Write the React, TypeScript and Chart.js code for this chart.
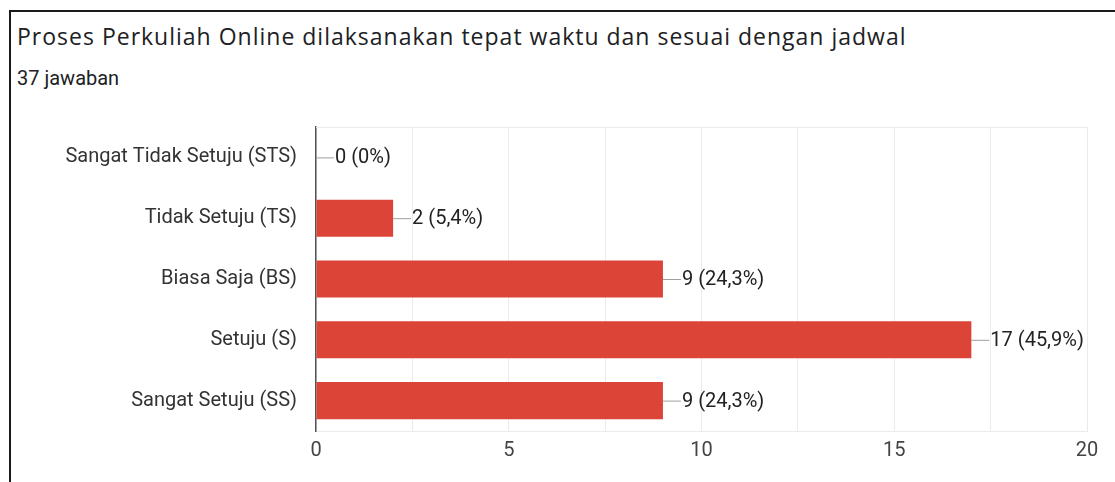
import React, { useEffect, useRef } from "react";
import { Chart, registerables } from "chart.js";

Chart.register(...registerables);

const TITLE = "Proses Perkuliah Online dilaksanakan tepat waktu dan sesuai dengan jadwal";
const SUBTITLE = "37 jawaban";
const categories = [
  "Sangat Tidak Setuju (STS)",
  "Tidak Setuju (TS)",
  "Biasa Saja (BS)",
  "Setuju (S)",
  "Sangat Setuju (SS)",
];
const counts = [0, 2, 9, 17, 9];
const total = 37;
const xTickLabels = [0, 5, 10, 15, 20];

function pctLabel(v: number) {
  const p = Math.round((v / total) * 1000) / 10;
  const s = Number.isInteger(p) ? String(p) : p.toFixed(1).replace(".", ",");
  return `${v} (${s}%)`;
}

const labelPlugin = {
  id: "valueLabels",
  afterDatasetsDraw(chart: any) {
    const ctx = chart.ctx;
    const meta = chart.getDatasetMeta(0);
    ctx.save();
    meta.data.forEach((bar: any, i: number) => {
      const x = bar.x;
      const y = bar.y;
      ctx.strokeStyle = "#9e9e9e";
      ctx.lineWidth = 1;
      ctx.beginPath();
      ctx.moveTo(x, y + 0.5);
      ctx.lineTo(x + 18, y + 0.5);
      ctx.stroke();
      ctx.fillStyle = "#222222";
      ctx.font = "20px Roboto";
      ctx.textAlign = "left";
      ctx.textBaseline = "middle";
      ctx.fillText(pctLabel(counts[i]), x + 19, y + 1);
    });
    ctx.restore();
  },
  beforeDatasetsDraw(chart: any) {
    const { ctx, chartArea } = chart;
    ctx.save();
    ctx.strokeStyle = "#ebebeb";
    ctx.lineWidth = 1;
    ctx.beginPath();
    ctx.moveTo(chartArea.left, chartArea.top + 0.5);
    ctx.lineTo(chartArea.right, chartArea.top + 0.5);
    ctx.stroke();
    ctx.restore();
  },
};

export default function App() {
  const ref = useRef<HTMLCanvasElement | null>(null);
  useEffect(() => {
    if (!ref.current) return;
    const chart = new Chart(ref.current, {
      type: "bar",
      data: {
        labels: categories,
        datasets: [
          {
            data: counts,
            backgroundColor: "#DB4437",
            barPercentage: 0.61,
            categoryPercentage: 1,
          },
        ],
      },
      options: {
        indexAxis: "y",
        responsive: false,
        animation: false,
        layout: { padding: { top: 22, right: 28, left: 0, bottom: 0 } },
        plugins: { legend: { display: false }, tooltip: { enabled: false } },
        scales: {
          x: {
            min: 0,
            max: 20,
            ticks: {
              stepSize: 2.5,
              autoSkip: false,
              maxRotation: 0,
              color: "#444",
              font: { family: "Roboto", size: 20 },
              padding: 8,
              callback: (v: any) => (xTickLabels.includes(Number(v)) ? String(v) : ""),
            },
            grid: { color: "#ebebeb", drawTicks: false },
            border: { color: "#ebebeb" },
            afterFit: (s: any) => {
              s.height = 51;
            },
          },
          y: {
            ticks: {
              color: "#333",
              font: { family: "Roboto", size: 20 },
              padding: 19,
            },
            grid: { display: false, drawTicks: false },
            border: { color: "#555", width: 1.5 },
            afterFit: (s: any) => {
              s.width = 305;
            },
          },
        },
      },
      plugins: [labelPlugin],
    });
    return () => chart.destroy();
  }, []);

  return (
    <div style={{ position: "fixed", left: 0, top: 0, width: 1115, height: 482, overflow: "hidden", background: "#fff" }}>
      <div
        style={{
          position: "absolute",
          left: 9,
          top: 10,
          width: 1200,
          height: 600,
          borderTop: "2px solid #1a1a1a",
          borderLeft: "2px solid #1a1a1a",
        }}
      />
      <div
        style={{
          position: "absolute",
          left: 17,
          top: 21,
          fontFamily: "'Open Sans'",
          fontSize: 23,
          letterSpacing: "1px",
          color: "#202124",
          whiteSpace: "nowrap",
          lineHeight: "30px",
        }}
      >
        {TITLE}
      </div>
      <div
        style={{
          position: "absolute",
          left: 17,
          top: 65,
          fontFamily: "Roboto",
          fontSize: 20,
          color: "#202124",
          whiteSpace: "nowrap",
          lineHeight: "26px",
        }}
      >
        {SUBTITLE}
      </div>
      <canvas ref={ref} width={1104} height={386} style={{ position: "absolute", left: 11, top: 96 }} />
    </div>
  );
}
